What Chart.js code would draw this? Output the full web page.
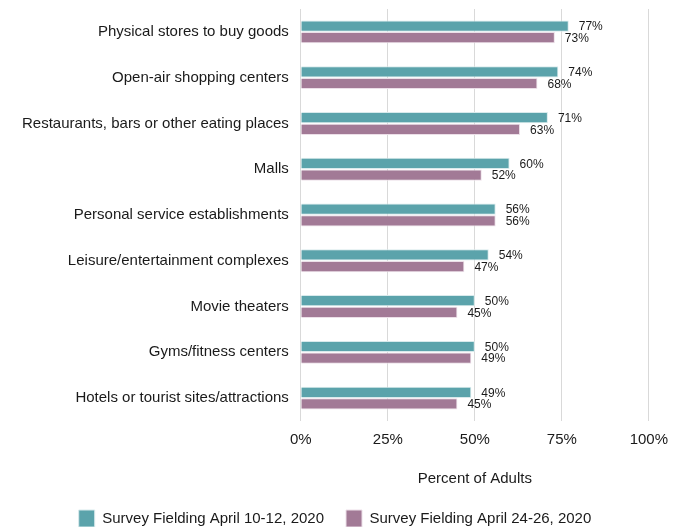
<!DOCTYPE html>
<html>
<head>
<meta charset="utf-8">
<script src="https://cdn.jsdelivr.net/npm/chart.js@4/dist/chart.umd.min.js"></script>
<style>
  html, body { margin: 0; padding: 0; background: #ffffff; }
  #wrap { width: 678px; height: 527px; }
</style>
</head>
<body>
<div id="wrap"><canvas id="myChart" width="678" height="527"></canvas></div>
<script>
var places = ["Physical stores to buy goods", "Open-air shopping centers", "Restaurants, bars or other eating places", "Malls", "Personal service establishments", "Leisure/entertainment complexes", "Movie theaters", "Gyms/fitness centers", "Hotels or tourist sites/attractions"]
var earlyApril = [77, 74, 71, 60, 56, 54, 50, 50, 49]
var lateApril = [73, 68, 63, 52, 56, 47, 45, 49, 45]
var seriesNames = ["Survey Fielding April 10-12, 2020", "Survey Fielding April 24-26, 2020"]
var xTicks = [0, 25, 50, 75, 100]

// etiquetas de porcentaje al final de cada barra
const barLabels = {
    id: 'barLabels',
    afterDatasetsDraw(chart) {
        const ctx = chart.ctx;
        ctx.save();
        ctx.font = '12px "Liberation Sans", Arial, sans-serif';
        ctx.fillStyle = '#1a1a1a';
        ctx.textAlign = 'left';
        ctx.textBaseline = 'middle';
        chart.data.datasets.forEach((ds, i) => {
            const meta = chart.getDatasetMeta(i);
            meta.data.forEach((bar, j) => {
                ctx.fillText(ds.data[j] + '%', bar.x + 10, bar.y + 1);
            });
        });
        ctx.restore();
    }
};

const data = {
    labels: places,
    datasets: [{
        label: seriesNames[0],
        backgroundColor: '#5ba3ab',
        borderColor: '#d8eaec',
        borderWidth: 1,
        data: earlyApril,
        categoryPercentage: 0.51,
        barPercentage: 0.96,
    },{
        label: seriesNames[1],
        backgroundColor: '#a27a96',
        borderColor: '#ecdfe8',
        borderWidth: 1,
        data: lateApril,
        categoryPercentage: 0.51,
        barPercentage: 0.96,
    }]
};

const config = {
    type: 'bar',
    data: data,
    plugins: [barLabels],
    options: {
        indexAxis: 'y',
        responsive: false,
        animation: false,
        layout: {
            padding: { left: 10, right: 18, top: 9, bottom: -10 }
        },
        scales: {
            x: {
                min: 0,
                max: 100,
                afterBuildTicks: (axis) => { axis.ticks = xTicks.map(v => ({ value: v })); },
                grid: { color: '#d9d9d9', drawTicks: false, lineWidth: 1 },
                border: { display: false },
                ticks: {
                    padding: 10,
                    color: '#1a1a1a',
                    font: { family: '"Liberation Sans", Arial, sans-serif', size: 15 },
                    callback: (v) => v + '%'
                },
                title: {
                    display: true,
                    text: 'Percent of Adults',
                    color: '#1a1a1a',
                    font: { family: '"Liberation Sans", Arial, sans-serif', size: 15 },
                    padding: { top: 11, bottom: 0 }
                }
            },
            y: {
                grid: { display: false, drawTicks: false },
                border: { display: false },
                afterFit: (axis) => { axis.paddingTop = 0; axis.paddingBottom = 0; },
                ticks: {
                    padding: 12,
                    color: '#1a1a1a',
                    font: { family: '"Liberation Sans", Arial, sans-serif', size: 15 }
                }
            }
        },
        plugins: {
            tooltip: { enabled: false },
            legend: {
                position: 'bottom',
                labels: {
                    boxWidth: 16,
                    boxHeight: 17,
                    padding: 22,
                    color: '#1a1a1a',
                    font: { family: '"Liberation Sans", Arial, sans-serif', size: 15 }
                }
            }
        }
    }
};

const myChart = new Chart(document.getElementById('myChart'), config);
</script>
</body>
</html>
